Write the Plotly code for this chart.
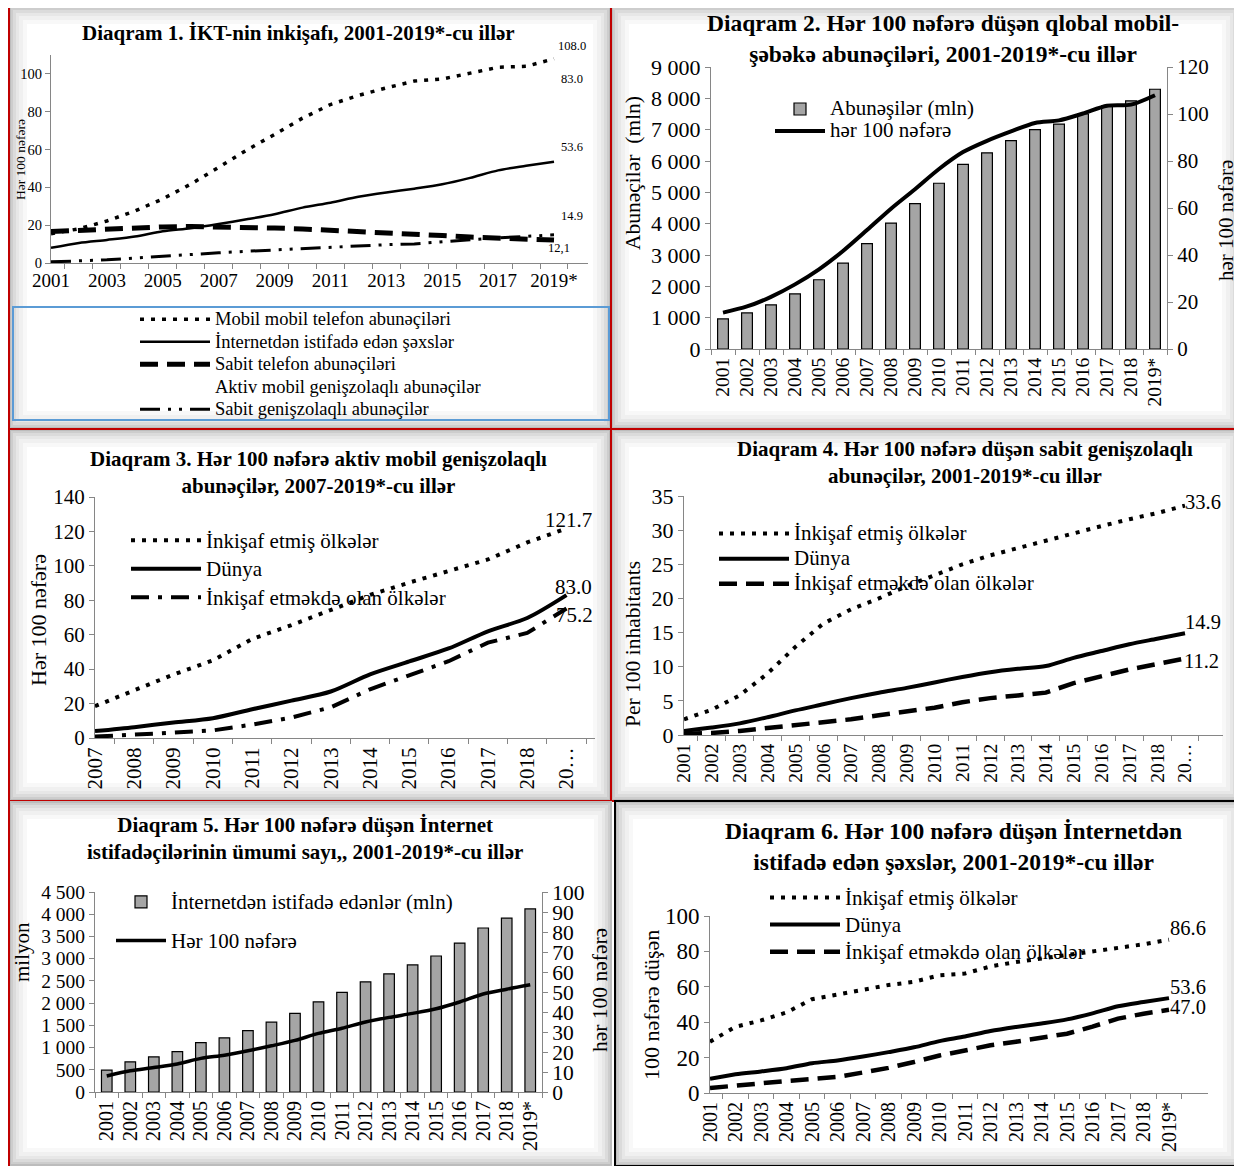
import plotly.graph_objects as go

W, H = 1242, 1166
OFF = 8  # page body margin: shift the drawing so it lands on the reference pixels
SERIF = "Liberation Serif, Times New Roman, serif"
AX = "#868686"


def fx(px):
    return (px - OFF) / W


def fy(py):
    return 1 - (py - OFF) / H


# ---------------- data ----------------
years = [str(y) for y in range(2001, 2019)] + ["2019*"]
years_mb = [str(y) for y in range(2007, 2019)] + ["2019*"]

# Diagram 1 (per 100 inhabitants)
mobile_per100 = [15.5, 18.1, 22.2, 27.5, 33.9, 41.7, 50.6, 59.7, 68.0, 76.6,
                 83.8, 88.6, 92.6, 96.2, 97.3, 100.2, 103.5, 104.0, 108.0]
internet_world = [8.0, 10.6, 12.2, 14.0, 16.8, 18.4, 20.6, 23.1, 25.8, 29.3,
                  31.9, 35.0, 37.3, 39.3, 41.6, 45.0, 49.0, 51.4, 53.6]
fixed_tel = [16.6, 17.3, 18.0, 18.6, 19.1, 19.3, 19.2, 19.0, 18.5, 18.0,
             17.4, 16.9, 16.3, 15.6, 14.5, 13.7, 13.2, 12.5, 12.1]
fbb_world = [0.6, 1.1, 1.7, 2.6, 3.6, 4.5, 5.4, 6.2, 6.9, 7.7,
             8.5, 9.2, 9.7, 10.1, 11.3, 12.3, 13.3, 14.1, 14.9]

# Diagram 2
mobile_subs_mln = [960, 1150, 1410, 1760, 2210, 2740, 3360, 4020, 4640, 5290,
                   5890, 6260, 6650, 7000, 7180, 7500, 7760, 7920, 8290]

# Diagram 3 (2007-2019)
amb_developed = [18.5, 27.9, 36.9, 45.1, 57.5, 65.6, 74.5, 83.1, 90.3, 97.1, 103.7, 113.6, 121.7]
amb_world = [4.0, 6.3, 9.0, 11.5, 16.7, 21.7, 27.0, 37.0, 44.5, 52.0, 62.0, 69.7, 83.0]
amb_developing = [0.8, 1.8, 3.1, 4.4, 7.8, 11.9, 17.8, 28.3, 36.5, 44.6, 55.4, 61.0, 75.2]

# Diagram 4
fbb_developed = [2.3, 3.7, 5.8, 9.0, 12.9, 16.3, 18.4, 20.0, 21.8, 23.4,
                 25.0, 26.3, 27.4, 28.4, 29.6, 30.6, 31.6, 32.5, 33.6]
fbb_developing = [0.2, 0.3, 0.6, 1.0, 1.4, 1.9, 2.3, 2.9, 3.4, 4.0,
                  4.8, 5.4, 5.8, 6.2, 7.6, 8.6, 9.6, 10.4, 11.2]

# Diagram 5
internet_users_mln = [490, 680, 790, 910, 1110, 1220, 1380, 1570, 1770, 2030,
                      2240, 2480, 2660, 2860, 3060, 3350, 3690, 3910, 4120]

# Diagram 6
inet_developed = [29.0, 37.4, 41.0, 45.5, 53.0, 55.5, 58.5, 61.0, 62.8, 66.5,
                  67.5, 71.5, 74.0, 76.0, 78.0, 80.5, 82.0, 84.0, 86.6]
inet_developing = [2.8, 4.3, 5.3, 6.8, 7.9, 9.1, 11.6, 14.2, 17.5, 21.2,
                   24.0, 27.0, 29.0, 31.0, 33.5, 37.5, 42.0, 44.8, 47.0]

# ---------------- styles ----------------
DOT = "4px,7px"
DASH = "18px,9px"
DASHDOT = "18px,9px,4px,9px"
DASHDOTDOT = "20px,8px,3px,8px,3px,8px"

# legend text size per legend
LEG_TXT = {"legend": 18.5, "legend2": 21, "legend3": 21, "legend4": 21, "legend5": 21, "legend6": 21}

fig = go.Figure()


def nm(name, legend):
    return f'<span style="font-size:{LEG_TXT[legend]}px">{name}</span>'


def line(x, y, name, dash, width, xa, ya, legend, shape="linear", color="black"):
    fig.add_trace(go.Scatter(
        x=x, y=y, name=nm(name, legend), mode="lines", xaxis=xa, yaxis=ya,
        line=dict(color=color, width=width, dash=dash, shape=shape, smoothing=0.8),
        legend=legend, legendgroup=legend + name, hoverinfo="skip"))


def bars(x, y, name, xa, ya, legend):
    fig.add_trace(go.Bar(
        x=x, y=y, name=nm(name, legend), xaxis=xa, yaxis=ya,
        marker=dict(color="#a5a5a5", line=dict(color="black", width=1.2)),
        legend=legend, legendgroup=legend + name, hoverinfo="skip"))


# Panel 1
line(years, mobile_per100, "Mobil mobil telefon abunəçiləri", DOT, 3.5, "x", "y", "legend")
line(years, internet_world, "İnternetdən istifadə edən şəxslər", "solid", 2.5, "x", "y", "legend", "spline")
line(years, fixed_tel, "Sabit telefon abunəçiləri", DASH, 5, "x", "y", "legend")
line(years_mb, amb_world, "Aktiv mobil genişzolaqlı abunəçilər", "solid", 2, "x", "y", "legend",
     color="rgba(0,0,0,0)")
line(years, fbb_world, "Sabit genişzolaqlı abunəçilər", DASHDOTDOT, 3, "x", "y", "legend")

# Panel 2
bars(years, mobile_subs_mln, "Abunəşilər (mln)", "x2", "y2", "legend2")
line(years, mobile_per100, "hər 100 nəfərə", "solid", 4, "x2", "y3", "legend2", "spline")

# Panel 3
line(years_mb, amb_developed, "İnkişaf etmiş ölkələr", DOT, 4, "x3", "y4", "legend3")
line(years_mb, amb_world, "Dünya", "solid", 4, "x3", "y4", "legend3", "spline")
line(years_mb, amb_developing, "İnkişaf etməkdə olan ölkələr", DASHDOT, 4, "x3", "y4", "legend3")

# Panel 4
line(years, fbb_developed, "İnkişaf etmiş ölkələr", DOT, 4, "x4", "y5", "legend4")
line(years, fbb_world, "Dünya", "solid", 4, "x4", "y5", "legend4", "spline")
line(years, fbb_developing, "İnkişaf etməkdə olan ölkələr", DASH, 4.5, "x4", "y5", "legend4")

# Panel 5
bars(years, internet_users_mln, "İnternetdən istifadə edənlər (mln)", "x5", "y6", "legend5")
line(years, internet_world, "Hər 100 nəfərə", "solid", 3.5, "x5", "y7", "legend5", "spline")

# Panel 6
line(years, inet_developed, "İnkişaf etmiş ölkələr", DOT, 4, "x6", "y8", "legend6")
line(years, internet_world, "Dünya", "solid", 4, "x6", "y8", "legend6", "spline")
line(years, inet_developing, "İnkişaf etməkdə olan ölkələr", DASH, 4.5, "x6", "y8", "legend6")


# ---------------- axes ----------------
def xcat(x0, x1, anchor, cats, ticktext, size, angle):
    return dict(domain=[fx(x0), fx(x1)], anchor=anchor, type="category",
                categoryorder="array", categoryarray=cats,
                tickmode="array", tickvals=cats, ticktext=ticktext, tickangle=angle,
                tickson="boundaries", ticks="outside", ticklen=5, tickcolor=AX,
                showline=True, linecolor=AX, linewidth=1, showgrid=False, zeroline=False,
                automargin=False,
                tickfont=dict(family=SERIF, size=size, color="black"))


def ylin(y_top, y_bot, anchor, rng, dtick, size, tickvals=None, side="left", overlay=None, fmt=None):
    d = dict(anchor=anchor, range=rng, side=side, ticks="outside", ticklen=5, tickcolor=AX,
             showline=True, linecolor=AX, linewidth=1, showgrid=False, zeroline=False,
             automargin=False,
             tickfont=dict(family=SERIF, size=size, color="black"))
    if overlay:
        d["overlaying"] = overlay
    else:
        d["domain"] = [fy(y_bot), fy(y_top)]
    if tickvals is not None:
        d["tickmode"] = "array"
        d["tickvals"] = tickvals
    else:
        d["dtick"] = dtick
    if fmt:
        d["tickformat"] = fmt
    return d


p1_text = [y if i % 2 == 0 else "" for i, y in enumerate(years)]
trunc_years = years[:-1] + ["20…"]
trunc_mb = years_mb[:-1] + ["20…"]

fig.update_layout(
    xaxis=xcat(51, 588, "y", years, p1_text, 19, 0),
    yaxis=ylin(55, 263, "x", [0, 110], 20, 14.5, tickvals=[0, 20, 40, 60, 80, 100]),
    xaxis2=xcat(711, 1167, "y2", years, years, 19.5, -90),
    yaxis2=ylin(67, 349, "x2", [0, 9000], 1000, 22, fmt=","),
    yaxis3=ylin(67, 349, "x2", [0, 120], 20, 21, side="right", overlay="y2"),
    xaxis3=xcat(95, 595, "y4", years_mb, trunc_mb, 21, -90),
    yaxis4=ylin(497, 738, "x3", [0, 140], 20, 21),
    xaxis4=xcat(684, 1223, "y5", years, trunc_years, 19.5, -90),
    yaxis5=ylin(496, 735, "x4", [0, 35], 5, 22),
    xaxis5=xcat(95, 542, "y6", years, years, 20, -90),
    yaxis6=ylin(892, 1092, "x5", [0, 4500], 500, 19.5, fmt=","),
    yaxis7=ylin(892, 1092, "x5", [0, 100], 10, 21.5, side="right", overlay="y6"),
    xaxis6=xcat(710, 1208, "y8", years, years, 20, -90),
    yaxis8=ylin(916, 1093, "x6", [0, 100], 20, 23),
)


# ---------------- legends ----------------
def leg(x, ytop, size, gap, iw=70):
    return dict(x=fx(x), y=fy(ytop), xanchor="left", yanchor="top",
                bgcolor="rgba(0,0,0,0)", borderwidth=0,
                font=dict(family=SERIF, size=size, color="black"),
                itemwidth=iw, tracegroupgap=gap, traceorder="grouped",
                itemclick=False, itemdoubleclick=False)


fig.update_layout(
    legend=leg(135, 303, 15, 0),
    legend2=leg(770, 93, 14.6, 0, 50),
    legend3=leg(126, 521, 19.6, 0),
    legend4=leg(714, 516, 17, 0),
    legend5=leg(111, 883, 19, 11, 50),
    legend6=leg(765, 879, 18.5, 0),
)

# ---------------- backgrounds ----------------
shapes = []


def panel(x0, y0, x1, y1, border=None, left_only=None):
    levels = [(0, "#bcbcbc"), (2, "#cdcdcd"), (4, "#dbdbdb"), (7, "#e7e7e7"),
              (10, "#f0f0f0"), (14, "#f8f8f8"), (18, "#ffffff")]
    for inset, col in levels:
        shapes.append(dict(type="rect", xref="paper", yref="paper", layer="below",
                           x0=fx(x0 + inset), x1=fx(x1 - inset),
                           y0=fy(y1 - inset), y1=fy(y0 + inset),
                           fillcolor=col, line=dict(width=0)))
    if border:
        shapes.append(dict(type="rect", xref="paper", yref="paper", layer="below",
                           x0=fx(x0), x1=fx(x1), y0=fy(y1), y1=fy(y0),
                           fillcolor="rgba(0,0,0,0)", line=dict(color=border, width=2)))
    if left_only:
        shapes.append(dict(type="line", xref="paper", yref="paper", layer="below",
                           x0=fx(x0), x1=fx(x0), y0=fy(y1), y1=fy(y0),
                           line=dict(color=left_only, width=2)))


RED = "#c00000"
panel(9, 6, 611, 429, RED)
panel(611, 6, 1240, 429, RED)
panel(9, 429, 611, 801, RED)
panel(611, 429, 1240, 801, RED)
panel(9, 801, 612, 1166, left_only=RED)
panel(615, 801, 1241, 1166, "#000000")

# legend box of panel 1
shapes.append(dict(type="rect", xref="paper", yref="paper", layer="below",
                   x0=fx(13), x1=fx(609), y0=fy(420), y1=fy(307),
                   fillcolor="rgba(0,0,0,0)", line=dict(color="#5b9bd5", width=2)))
fig.update_layout(shapes=shapes)

# ---------------- annotations ----------------
ann = []


def text(x, y, t, size, bold=False, angle=0, xanchor="center"):
    ann.append(dict(x=fx(x), y=fy(y), xref="paper", yref="paper", text=f"<b>{t}</b>" if bold else t,
                    showarrow=False, textangle=angle, xanchor=xanchor, yanchor="middle",
                    font=dict(family=SERIF, size=size, color="black")))


def dlabel(xa, ya, xcat_, yval, t, size, dx, dy):
    ann.append(dict(x=xcat_, y=yval, xref=xa, yref=ya, text=t, showarrow=False,
                    xshift=dx, yshift=dy, font=dict(family=SERIF, size=size, color="black")))


# titles
text(298, 33, "Diaqram 1. İKT-nin inkişafı, 2001-2019*-cu illər", 21, True)
text(943, 39, "Diaqram 2. Hər 100 nəfərə düşən qlobal mobil-<br>şəbəkə abunəçiləri, 2001-2019*-cu illər", 23.5, True)
text(318, 472, "Diaqram 3. Hər 100 nəfərə aktiv mobil genişzolaqlı<br>abunəçilər, 2007-2019*-cu illər", 21, True)
text(965, 462, "Diaqram 4. Hər 100 nəfərə düşən sabit genişzolaqlı<br>abunəçilər, 2001-2019*-cu illər", 21, True)
text(305, 838, "Diaqram 5. Hər 100 nəfərə düşən İnternet<br>istifadəçilərinin ümumi sayı,, 2001-2019*-cu illər", 21, True)
text(953, 846, "Diaqram 6. Hər 100 nəfərə düşən İnternetdən<br>istifadə edən şəxslər, 2001-2019*-cu illər", 23.5, True)

# axis titles
text(20, 160, "Hər 100 nəfərə", 13.5, angle=-90)
text(633, 173, "Abunəçilər  (mln)", 21.5, angle=-90)
text(1226, 221, "hər 100 nəfərə", 21, angle=-90)
text(38, 620, "Hər 100 nəfərə", 22, angle=-90)
text(633, 644, "Per 100 inhabitants", 21.5, angle=-90)
text(22, 952, "milyon", 21, angle=-90)
text(600, 990, "hər 100 nəfərə", 21.5, angle=-90)
text(651, 1005, "100 nəfərə düşən", 22, angle=-90)

# data labels
last = years[-1]
dlabel("x", "y", last, mobile_per100[-1], f"{mobile_per100[-1]:.1f}", 12.5, 18, 13)
dlabel("x", "y", last, amb_world[-1], f"{amb_world[-1]:.1f}", 12.5, 18, 27)
dlabel("x", "y", last, internet_world[-1], f"{internet_world[-1]:.1f}", 12.5, 18, 15)
dlabel("x", "y", last, fbb_world[-1], f"{fbb_world[-1]:.1f}", 12.5, 18, 19)
dlabel("x", "y", last, fixed_tel[-1], f"{fixed_tel[-1]:.1f}".replace(".", ","), 12.5, 5, -8)

dlabel("x3", "y4", years_mb[-1], amb_developed[-1], f"{amb_developed[-1]:.1f}", 21, 2, 9)
dlabel("x3", "y4", years_mb[-1], amb_world[-1], f"{amb_world[-1]:.1f}", 21, 7, 8)
dlabel("x3", "y4", years_mb[-1], amb_developing[-1], f"{amb_developing[-1]:.1f}", 21, 8, -6)

dlabel("x4", "y5", last, fbb_developed[-1], f"{fbb_developed[-1]:.1f}", 20.5, 18, 4)
dlabel("x4", "y5", last, fbb_world[-1], f"{fbb_world[-1]:.1f}", 20.5, 18, 11)
dlabel("x4", "y5", last, fbb_developing[-1], f"{fbb_developing[-1]:.1f}", 20.5, 16, -2)

dlabel("x6", "y8", last, inet_developed[-1], f"{inet_developed[-1]:.1f}", 20.5, 19, 12)
dlabel("x6", "y8", last, internet_world[-1], f"{internet_world[-1]:.1f}", 20.5, 19, 11)
dlabel("x6", "y8", last, inet_developing[-1], f"{inet_developing[-1]:.1f}", 20.5, 19, 3)

fig.update_layout(
    annotations=ann,
    width=W, height=H, margin=dict(l=0, r=0, t=0, b=0, pad=0, autoexpand=False),
    paper_bgcolor="white", plot_bgcolor="rgba(0,0,0,0)",
    separators=". ", bargap=0.55, barmode="group",
    font=dict(family=SERIF, color="black"),
)

fig.write_html("out.html")
